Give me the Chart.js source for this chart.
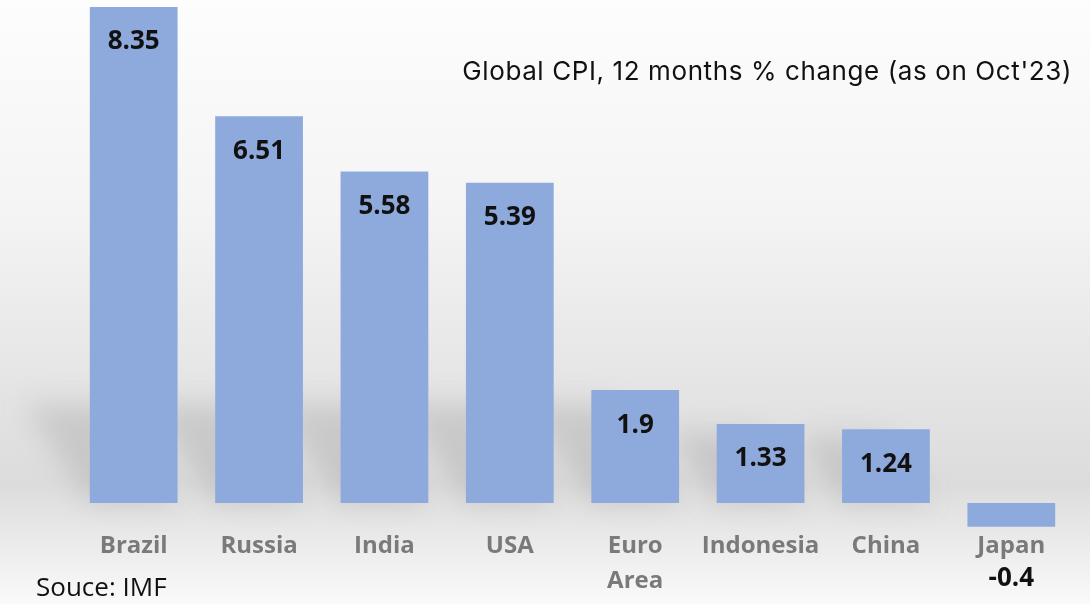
<!DOCTYPE html>
<html>
<head>
<meta charset="utf-8">
<script src="https://cdn.jsdelivr.net/npm/chart.js@4"></script>
<style>
  body { margin: 0; }
  .wrap {
    position: relative; width: 1090px; height: 604px;
    background: linear-gradient(to bottom, #fdfdfd 0%, #f4f4f4 35%, #e4e4e4 65%, #dcdcdc 80%, #ebebeb 90%, #fafafa 100%);
  }
  canvas { position: absolute; left: 0; top: 0; }
  .title {
    position: absolute; right: 18px; top: 55px; letter-spacing: 0.6px;
    font-family: 'Inter', sans-serif; font-size: 26px; color: #111;
  }
  .source {
    position: absolute; left: 36px; top: 568px;
    font-family: 'Open Sans', sans-serif; font-size: 26px; color: #111;
  }
</style>
</head>
<body>
<div class="wrap">
  <canvas id="cpiChart" width="1090" height="604"></canvas>
  <div class="title">Global CPI, 12 months % change (as on Oct'23)</div>
  <div class="source">Souce: IMF</div>
</div>
<script>
const countries = ['Brazil', 'Russia', 'India', 'USA', ['Euro', 'Area'], 'Indonesia', 'China', 'Japan'];
const cpiChange = [8.35, 6.51, 5.58, 5.39, 1.9, 1.33, 1.24, -0.4];

// value labels: inside bar near top, below the category name for negatives
const valueLabels = {
    id: 'valueLabels',
    afterDatasetsDraw(chart) {
        const ctx = chart.ctx;
        const meta = chart.getDatasetMeta(0);
        ctx.save();
        ctx.font = 'bold 26px "Open Sans", sans-serif';
        ctx.fillStyle = '#111';
        ctx.textAlign = 'center';
        ctx.textBaseline = 'middle';
        meta.data.forEach((bar, i) => {
            const v = cpiChange[i];
            const y = v >= 0 ? bar.y + 35 : chart.chartArea.bottom + 49;
            ctx.fillText(String(v), bar.x, y);
        });
        ctx.restore();
    }
};

// soft receding shadows behind bars
const barShadows = {
    id: 'barShadows',
    beforeDatasetsDraw(chart) {
        const ctx = chart.ctx;
        const meta = chart.getDatasetMeta(0);
        const zero = chart.scales.y.getPixelForValue(0);
        ctx.save();
        ctx.filter = 'blur(14px)';
        ctx.fillStyle = 'rgba(120,120,120,0.22)';
        meta.data.forEach((bar, i) => {
            if (cpiChange[i] <= 0) return;
            const h = Math.min(zero - bar.y, 110);
            const w = bar.width;
            ctx.beginPath();
            ctx.moveTo(bar.x - w / 2, zero);
            ctx.lineTo(bar.x + w / 2, zero);
            ctx.lineTo(bar.x + w / 2 - h * 0.6, zero - h * 0.9);
            ctx.lineTo(bar.x - w / 2 - h * 0.6, zero - h * 0.9);
            ctx.closePath();
            ctx.fill();
        });
        ctx.restore();
    }
};

new Chart(document.getElementById('cpiChart'), {
    type: 'bar',
    data: {
        labels: countries,
        datasets: [{ data: cpiChange, backgroundColor: '#8eaadc', barPercentage: 0.7, categoryPercentage: 1 }]
    },
    options: {
        responsive: false,
        animation: false,
        layout: { padding: { left: 71, right: 16, top: 0, bottom: 0 } },
        plugins: { legend: { display: false }, tooltip: { enabled: false } },
        scales: {
            y: { display: false, min: -0.455, max: 8.468 },
            x: {
                grid: { display: false },
                border: { display: false },
                ticks: {
                    color: '#7a7a7a', padding: -9, maxRotation: 0,
                    font: { family: '"Open Sans", sans-serif', size: 24, weight: 'bold', lineHeight: '35px' }
                },
                afterFit: s => { s.height = 74; }
            }
        }
    },
    plugins: [barShadows, valueLabels]
});
</script>
</body>
</html>
